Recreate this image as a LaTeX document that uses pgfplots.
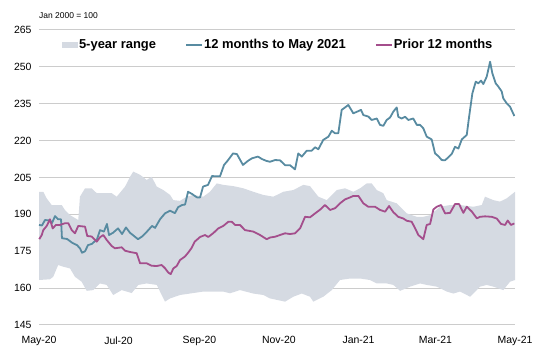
\documentclass[border=0pt]{standalone}
\usepackage{fontspec}
\setmainfont{Liberation Sans}
\usepackage{pgfplots}
\usepackage{pgfplotstable}
\pgfplotsset{compat=1.18}
\usepgfplotslibrary{fillbetween}
\definecolor{bandc}{RGB}{213,218,226}
\definecolor{bluec}{RGB}{88,139,161}
\definecolor{purplec}{RGB}{164,78,140}
\definecolor{gridc}{RGB}{204,204,204}

% day index from 1 May 2020
\pgfplotstableread{
d v
0 185.7
2.3 185.5
4.6 187.7
8.4 187.5
10 186.5
12.3 189.3
14.6 188
16.9 188
17.6 180.3
21.5 180
25.3 178.5
29.1 177.5
31.4 176.2
33 174.4
35.3 175
37.6 177.5
40.6 178
44.5 179.9
46.8 183.6
49.8 183
52.1 186.1
53.7 181.6
56.7 182.5
60.6 184.3
63.7 182
66.7 184.7
69.8 182.5
73.6 180.9
75.9 179.9
79 181
82.8 183
86.7 185.3
89 184.5
92.8 188
96.6 190.4
100.5 191.5
104.3 190.5
106.6 192.9
109.7 193.8
112 194
114.3 199.2
117.3 198.3
121.2 196.9
123.5 196.9
125.8 201.3
129.6 202
132.7 205.6
135 205.5
138.8 205.5
141.9 210.1
144.9 212
148.8 214.8
151.8 214.5
156.4 210.1
160.3 211.8
163.3 212.8
167.9 213.5
171 212.5
174.1 211.8
177.1 211.4
181 212.1
184.8 212
188.7 210
192.5 210
196.3 208.3
198.8 214.8
201.5 213.5
205.3 215.9
209.1 215.9
211.7 217.3
214.2 216.5
218 220.3
221.9 221.6
224.5 224
227 223
229.5 223
232.1 232.5
234.7 233.5
237.2 234.5
241 231.1
244.9 232
246.9 232.5
248.7 230.4
252.5 229.8
255.1 228.4
259 229
261.5 226.4
264 226
266.6 228.4
269.2 229.4
271.7 231.8
274.3 233.5
275.5 229.7
278.1 229
280.7 229.7
283.2 228.4
287 229
289.7 226.4
292.2 226.4
294.7 225
297.3 221.6
301.1 220.5
303.7 214.8
306.2 213.7
308.8 212.1
311.3 212
313.9 213.2
316.5 214.6
319 217.5
321.6 216.8
324.2 220.5
328 222.3
329.8 229.7
332.3 239.2
334.9 244
336.9 243.3
339 244.4
340.7 243
343.3 246
345.9 252.1
347.6 247.4
350.2 243.3
352.2 242
354.8 240
356 237.2
358.6 235.2
361.2 233.8
364.5 230
}\recenttab

\pgfplotstableread{
d v
0.2 179.9
2.1 181.6
3.3 183.6
5.9 185.3
8.4 188
10.5 184.3
13 185.7
16.1 185.7
19.9 186.4
22.5 186.4
25.1 183.6
27.6 182.3
30.1 185.3
35.3 185
37 181.2
40.4 181
44.3 178.9
46.8 180.7
49.3 181.6
51.9 179.6
55.8 177.1
58.3 176.2
63.4 176.6
66 175.2
69.8 174.7
74.9 174.2
77.5 170.1
82.6 170.1
86.4 169.1
90.3 169
94.1 169.4
96.6 168.1
99.2 166.3
101 165.7
103 168
105.6 169
108.1 171.4
112 172.9
114.5 174.5
117.1 176.4
119.4 178.9
123.5 180.8
127.3 181.6
129.8 180.8
133.7 182.4
137.5 184.3
141.3 185.3
145.2 187
147.8 187
150.3 185.7
154.1 185.7
158 183.6
164.3 183
169.5 181.6
174.6 179.9
177.2 180.6
181 180.9
184.8 181.6
188.7 182.3
192.5 182
196.3 182.3
200.2 184.3
204 189
207.8 188.8
211.7 190.4
215.5 191.9
219.3 193.8
223.2 191.8
227 192.5
230.8 194.5
234.7 196.1
238.5 196.9
241 197.5
244.9 197.5
248.7 194.5
252.5 193.1
257.7 193.1
261.5 191.8
265.4 191.1
268.4 193.4
271.7 190.9
275.5 189
279.4 188.3
282 187.4
285.8 187
288.4 184.3
290.9 181.6
294.7 179.9
297.3 185.7
299.9 186.1
302.4 192
305 193.1
308.3 193.8
311.4 190.4
315.2 190.6
319 194.2
322.1 194.2
325.4 190.6
328 193.1
331.8 191.2
335.7 188.4
338.2 189
342 189.2
347.2 189
351 188.3
354.3 186.1
357.4 185.7
359.4 187.5
361.9 185.7
364.5 186.3
}\priortab

\pgfplotstableread{
d v
0 199.2
3.3 199.2
5.9 196.5
9.7 193.8
17.4 193.8
19.9 191.8
23.8 189.7
30.1 187.7
31.4 197.2
35.3 200.6
40.4 200.6
44.3 198.6
49.3 198.6
55.8 198.6
59.6 197.2
66 201.3
69.8 205.3
72.3 207.4
77.5 206.1
82.6 204
86.4 205.3
90.3 201.3
95.3 199.9
100.5 197.9
103 195.8
108.1 195.5
113.3 197.2
118.3 197.9
126 197.2
131.1 199.2
136.3 202.6
141.3 202
149 201.5
156.7 200.6
164.3 199.2
172 197.9
179.7 197.2
187.4 199.2
195 199.9
202.7 202
207.8 201.5
214.2 197.2
220.6 195.8
228.3 199.9
234.7 200.6
241 199.2
246.2 200.6
251.3 202.6
255.1 202.6
259 199.9
264 198.6
266.6 195.8
274.3 194.5
282 190.4
289.7 189
294.7 189
299.9 189.7
307.5 193.1
315.2 193.8
322.9 193.8
333.1 193.1
339.5 193.8
342 197.2
348.4 195.8
353.5 195.2
358.6 196.5
365 199.2
}\bandhitab

\pgfplotstableread{
d v
0 163.3
8.4 163.6
10.9 164.6
14.7 169.4
18.6 168.7
23.8 168
27.6 164.6
32.7 162.6
36.6 158.9
41.7 159.2
46.8 161.9
51.9 161.3
56.9 157.2
63.4 159.2
71.1 158
76.2 161.3
82.6 161.9
90.3 161.3
96.6 154.5
100.5 155.8
108.1 157.2
115.8 157.8
126 158.6
133.7 158.6
141.3 158.6
146.5 157.9
154.1 159.2
164.3 157.8
172 157.2
177.2 155.8
188.7 154.5
195 156.5
201.5 157.8
207.8 156.5
210.3 154.5
218 156.5
224.5 159.2
230.8 163.3
238.5 163.9
246.2 163.9
253.8 163.3
259 161.9
266.6 161.9
271.7 161.3
276.9 158.9
284.5 160.6
292.2 161.9
297.3 161.3
305 160.6
312.7 158.6
317.7 157.8
322.9 158.6
330.6 156.5
338.2 160.6
343.3 161.3
348.4 160.6
356 159.2
361.2 162.6
365 163.3
}\bandlotab

\begin{document}
\begin{tikzpicture}
\begin{axis}[
  at={(39bp,23bp)}, anchor=south west,
  scale only axis, width=476bp, height=295bp,
  xmin=0, xmax=365, ymin=145, ymax=265,
  ytick={145,160,...,265},
  xtick={0,61,123,184,245,304,365},
  xticklabels={May-20,Jul-20,Sep-20,Nov-20,Jan-21,Mar-21,May-21},
  major tick length=0pt,
  axis line style={draw=none},
  ymajorgrids, grid style={gridc, line width=1bp},
  tick label style={font=\fontsize{10.5}{12}\selectfont},
  /pgf/number format/assume math mode=true,
  yticklabel style={xshift=-4bp},
  xticklabel style={yshift=-8bp},
  clip=false,
  legend columns=-1,
  legend style={draw=none, fill=none, inner sep=0pt,
    font=\bfseries\fontsize{13}{15}\selectfont,
    at={(rel axis cs:0.048,0.949)}, anchor=west,
    nodes={inner sep=1pt},
    /tikz/every even column/.append style={column sep=28bp}},
  legend image code/.code={\draw[#1, line width=2bp] (0bp,0bp) -- (16bp,0bp);},
]
\addplot[name path=up, draw=none, forget plot] table[x=d, y=v] {\bandhitab};
\addplot[name path=lo, draw=none, forget plot] table[x=d, y=v] {\bandlotab};
\addplot[fill=bandc, draw=none, legend image code/.code={\fill[bandc] (0bp,-2.8bp) rectangle (16bp,2.8bp);}] fill between[of=up and lo];
\addlegendentry{5-year range}
\addplot[bluec, line width=1.8bp, line join=round] table[x=d, y=v] {\recenttab};
\addlegendentry{12 months to May 2021}
\addplot[purplec, line width=1.8bp, line join=round] table[x=d, y=v] {\priortab};
\addlegendentry{Prior 12 months}
\node[anchor=base west, font=\fontsize{8.5}{10}\selectfont, inner sep=0pt] at (rel axis cs:0,1) [yshift=11bp] {Jan 2000 = 100};
\end{axis}
\pgfresetboundingbox
\path[use as bounding box] (0,0) rectangle (533bp,348bp);
\end{tikzpicture}
\end{document}
